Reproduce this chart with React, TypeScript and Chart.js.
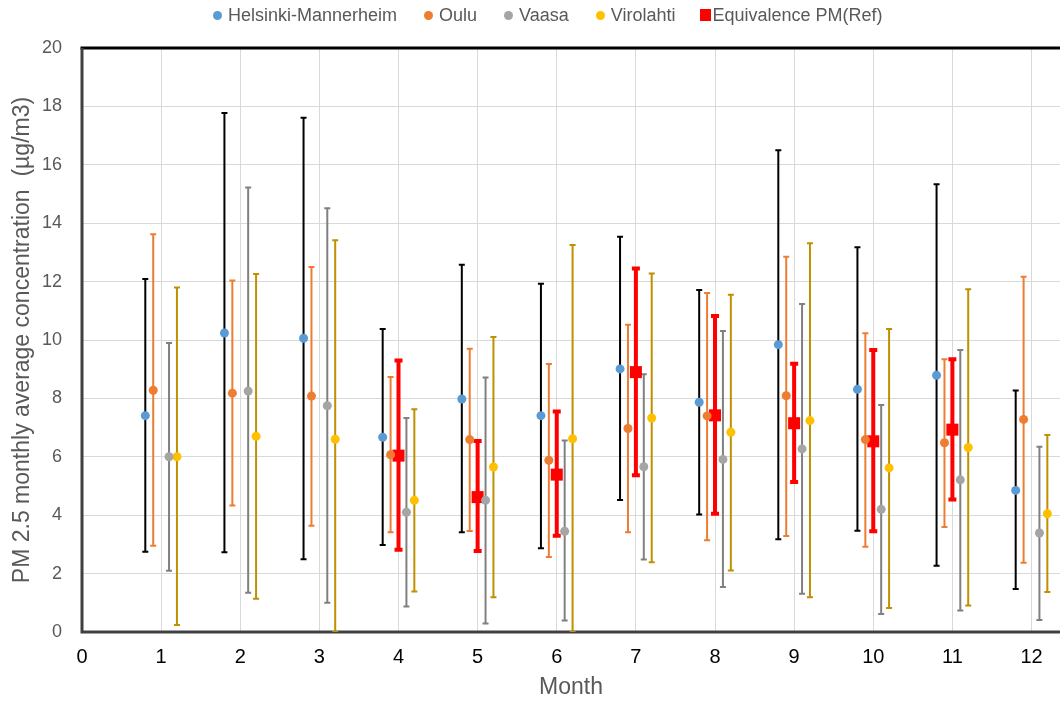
import React, { useEffect, useRef } from "react";
import { Chart, registerables } from "chart.js";

Chart.register(...registerables);

// ---------- Data ----------
const months = [1, 2, 3, 4, 5, 6, 7, 8, 9, 10, 11, 12];

const helsinkiMean = [7.41, 10.24, 10.06, 6.67, 7.98, 7.41, 9.01, 7.87, 9.84, 8.31, 8.79, 4.85];
const helsinkiLow = [2.75, 2.73, 2.49, 2.98, 3.42, 2.87, 4.52, 4.02, 3.18, 3.47, 2.27, 1.47];
const helsinkiHigh = [12.09, 17.77, 17.61, 10.38, 12.58, 11.93, 13.54, 11.71, 16.5, 13.18, 15.33, 8.27];

const ouluMean = [8.28, 8.18, 8.08, 6.07, 6.59, 5.88, 6.97, 7.4, 8.09, 6.59, 6.48, 7.28];
const ouluLow = [2.95, 4.33, 3.64, 3.42, 3.46, 2.57, 3.42, 3.14, 3.29, 2.92, 3.6, 2.37];
const ouluHigh = [13.62, 12.04, 12.5, 8.73, 9.7, 9.18, 10.52, 11.61, 12.85, 10.23, 9.34, 12.17];

const vaasaMean = [6.0, 8.25, 7.75, 4.1, 4.51, 3.45, 5.66, 5.91, 6.27, 4.2, 5.21, 3.39];
const vaasaLow = [2.1, 1.34, 1.0, 0.87, 0.29, 0.39, 2.48, 1.54, 1.31, 0.62, 0.74, 0.41];
const vaasaHigh = [9.9, 15.22, 14.51, 7.33, 8.72, 6.56, 8.83, 10.31, 11.23, 7.77, 9.66, 6.34];

const virolahtiMean = [6.0, 6.7, 6.6, 4.51, 5.65, 6.62, 7.33, 6.84, 7.24, 5.62, 6.32, 4.05];
const virolahtiLow = [0.24, 1.14, 0.0, 1.39, 1.19, 0.0, 2.39, 2.11, 1.19, 0.82, 0.91, 1.37];
const virolahtiHigh = [11.8, 12.26, 13.42, 7.63, 10.1, 13.25, 12.28, 11.55, 13.31, 10.38, 11.74, 6.75];

const refMonths = [4, 5, 6, 7, 8, 9, 10, 11];
const refMean = [6.04, 4.62, 5.39, 8.9, 7.42, 7.15, 6.53, 6.93];
const refLow = [2.82, 2.77, 3.3, 5.37, 4.05, 5.14, 3.45, 4.54];
const refHigh = [9.3, 6.54, 7.55, 12.45, 10.82, 9.19, 9.66, 9.34];

const seriesNames = ["Helsinki-Mannerheim", "Oulu", "Vaasa", "Virolahti", "Equivalence PM(Ref)"];

const xTitle = "Month";
const yTitle = "PM 2.5 monthly average concentration  (µg/m3)";

// ---------- Styles ----------
const FONT = '"Liberation Sans", Arial, sans-serif';

const seriesStyle = [
  { offset: -0.2, point: "#5B9BD5", bar: "#000000", barWidth: 2, cap: 6, style: "circle", radius: 4.5 },
  { offset: -0.1, point: "#ED7D31", bar: "#ED7D31", barWidth: 2, cap: 6, style: "circle", radius: 4.5 },
  { offset: 0.1, point: "#A5A5A5", bar: "#808080", barWidth: 2, cap: 6, style: "circle", radius: 4.5 },
  { offset: 0.2, point: "#FFC000", bar: "#BF9000", barWidth: 2, cap: 6, style: "circle", radius: 4.5 },
  { offset: 0, point: "#FF0000", bar: "#FF0000", barWidth: 4, cap: 8, style: "rect", radius: 8.5 },
];

const seriesData = [
  { months, mean: helsinkiMean, low: helsinkiLow, high: helsinkiHigh },
  { months, mean: ouluMean, low: ouluLow, high: ouluHigh },
  { months, mean: vaasaMean, low: vaasaLow, high: vaasaHigh },
  { months, mean: virolahtiMean, low: virolahtiLow, high: virolahtiHigh },
  { months: refMonths, mean: refMean, low: refLow, high: refHigh },
];

const framePlugin = {
  id: "frame",
  beforeDatasetsDraw(chart: any) {
    const { ctx, chartArea } = chart;
    const { left, right, top, bottom } = chartArea;
    ctx.save();
    ctx.lineWidth = 3;
    ctx.strokeStyle = "#000000";
    ctx.beginPath();
    ctx.moveTo(left - 1.5, top);
    ctx.lineTo(right, top);
    ctx.stroke();
    ctx.strokeStyle = "#404040";
    ctx.beginPath();
    ctx.moveTo(left, top);
    ctx.lineTo(left, bottom + 1.5);
    ctx.moveTo(left - 1.5, bottom);
    ctx.lineTo(right, bottom);
    ctx.stroke();
    ctx.restore();
  },
};

const errorBarPlugin = {
  id: "errorBars",
  beforeDatasetsDraw(chart: any) {
    const { ctx, chartArea } = chart;
    const xs = chart.scales.x;
    const ys = chart.scales.y;
    ctx.save();
    ctx.beginPath();
    ctx.rect(chartArea.left, chartArea.top, chartArea.right - chartArea.left, chartArea.bottom - chartArea.top);
    ctx.clip();
    chart.data.datasets.forEach((ds: any, di: number) => {
      const meta = chart.getDatasetMeta(di);
      if (meta.hidden) return;
      const eb = ds.errorBars;
      ctx.strokeStyle = eb.color;
      ctx.lineWidth = eb.width;
      ds.data.forEach((pt: any, i: number) => {
        const px = xs.getPixelForValue(pt.x);
        const yl = ys.getPixelForValue(eb.low[i]);
        const yh = ys.getPixelForValue(eb.high[i]);
        ctx.beginPath();
        ctx.moveTo(px, yl);
        ctx.lineTo(px, yh);
        ctx.moveTo(px - eb.cap / 2, yl);
        ctx.lineTo(px + eb.cap / 2, yl);
        ctx.moveTo(px - eb.cap / 2, yh);
        ctx.lineTo(px + eb.cap / 2, yh);
        ctx.stroke();
      });
    });
    ctx.restore();
  },
};

export default function App() {
  const canvasRef = useRef<HTMLCanvasElement | null>(null);

  useEffect(() => {
    if (!canvasRef.current) return;
    const datasets = seriesData.map((s, si) => {
      const st = seriesStyle[si];
      return {
        label: seriesNames[si],
        data: s.months.map((m, i) => ({ x: m + st.offset, y: s.mean[i] })),
        backgroundColor: st.point,
        borderColor: st.point,
        borderWidth: 0,
        pointStyle: st.style,
        pointRadius: st.radius,
        pointHoverRadius: st.radius,
        showLine: false,
        errorBars: { low: s.low, high: s.high, color: st.bar, width: st.barWidth, cap: st.cap },
      };
    });

    const chart = new Chart(canvasRef.current, {
      type: "scatter",
      data: { datasets } as any,
      options: {
        animation: false,
        responsive: false,
        events: [],
        layout: { autoPadding: false, padding: { top: 48, right: 0, bottom: 0, left: 0 } },
        plugins: { legend: { display: false }, tooltip: { enabled: false } },
        scales: {
          x: {
            type: "linear",
            min: 0,
            max: 12.36,
            ticks: {
              stepSize: 1,
              includeBounds: false,
              color: "#000000",
              font: { family: FONT, size: 20 },
              padding: 13,
            },
            grid: { color: "#D9D9D9", lineWidth: 1, drawTicks: false },
            border: { display: false },
            title: {
              display: true,
              text: xTitle,
              color: "#595959",
              font: { family: FONT, size: 23 },
              padding: { top: 0, bottom: 1 },
            },
            afterFit: (s: any) => {
              s.height = 70;
              s.paddingLeft = 0;
              s.paddingRight = 0;
            },
          },
          y: {
            type: "linear",
            min: 0,
            max: 20,
            ticks: {
              stepSize: 2,
              color: "#595959",
              font: { family: FONT, size: 18 },
              padding: 20,
            },
            grid: { color: "#D9D9D9", lineWidth: 1, drawTicks: false },
            border: { display: false },
            title: {
              display: true,
              text: yTitle,
              color: "#595959",
              font: { family: FONT, size: 23 },
              padding: { top: 9, bottom: 0 },
            },
            afterFit: (s: any) => {
              s.width = 82;
            },
          },
        },
      } as any,
      plugins: [framePlugin, errorBarPlugin],
    });
    return () => chart.destroy();
  }, []);

  return (
    <div
      style={{
        position: "fixed",
        left: 0,
        top: 0,
        width: 1060,
        height: 702,
        background: "#ffffff",
        overflow: "hidden",
      }}
    >
      <canvas ref={canvasRef} width={1060} height={702} style={{ display: "block", width: 1060, height: 702 }} />
      <div
        style={{
          position: "absolute",
          left: 213,
          top: 0,
          height: 30,
          display: "flex",
          alignItems: "center",
          fontFamily: FONT,
          fontSize: 18,
          color: "#595959",
          whiteSpace: "nowrap",
        }}
      >
        {seriesNames.map((name, i) => {
          const st = seriesStyle[i];
          const square = st.style === "rect";
          return (
            <span
              key={name}
              style={{ display: "flex", alignItems: "center", marginLeft: i === 0 ? 0 : square ? 24 : 27 }}
            >
              <span
                style={{
                  display: "inline-block",
                  width: square ? 11 : 9,
                  height: square ? 12 : 9,
                  borderRadius: square ? 0 : "50%",
                  background: st.point,
                  marginRight: square ? 2 : 6,
                }}
              />
              <span>{name}</span>
            </span>
          );
        })}
      </div>
    </div>
  );
}
